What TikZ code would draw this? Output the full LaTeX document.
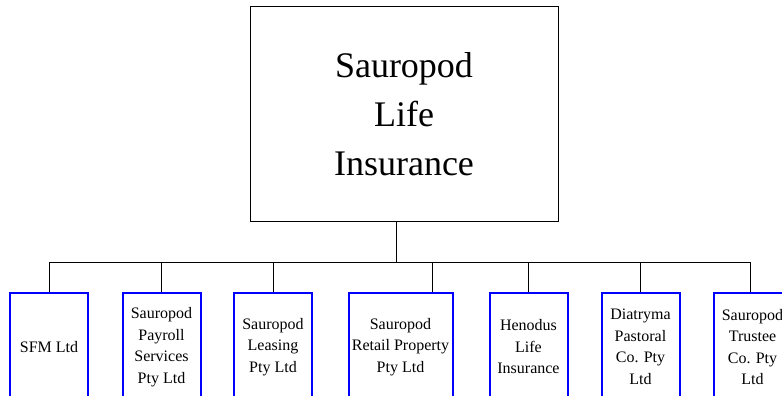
\documentclass[tikz,border=0pt]{standalone}
\usepackage{fontspec}
\setmainfont{Liberation Serif}
\usetikzlibrary{positioning}
\tikzset {
  % connector style
  link/.style = {
    draw = black,
    line width = 1pt
  },
  % head office box
  parent/.style = {
    draw = black,
    line width = 1pt,
    rectangle,
    align = center,
    minimum width = 308pt,
    minimum height = 214pt,
    font = \fontsize{36}{49}\selectfont
  },
  % subsidiary box
  company/.style = {
    draw = blue,
    line width = 2pt,
    rectangle,
    align = center,
    inner sep = 0,
    minimum width = 78pt,
    minimum height = 108pt,
    font = \fontsize{16}{21.5}\selectfont
  }
}
\begin{document}
\begin{tikzpicture}[x=1pt, y=-1pt]
    \useasboundingbox (0,0) rectangle (782,396);

    \node[parent] (top) at (404,114) {Sauropod\\Life\\Insurance};

    \node[company] (sfm) at (49,347) {SFM Ltd};
    \node[company] (payroll) at (161.5,347) {Sauropod\\Payroll\\Services\\Pty Ltd};
    \node[company] (leasing) at (273,347) {Sauropod\\Leasing\\Pty Ltd};
    \node[company, minimum width = 104pt] (retail) at (400.5,347) {Sauropod\\Retail Property\\Pty Ltd};
    \node[company] (henodus) at (528.5,347) {Henodus\\Life\\Insurance};
    \node[company] (pastoral) at (640.5,347) {Diatryma\\Pastoral\\Co. Pty\\Ltd};
    \node[company] (trustee) at (752.5,347) {Sauropod\\Trustee\\Co. Pty\\Ltd};

    \coordinate (hub) at (396,262);

    \draw[link] (top.south -| hub) -- (hub);
    \draw[link] (sfm.north) |- ([xshift=-2.5pt]trustee.north |- hub)
    -- ([xshift=-2.5pt]trustee.north);
    \foreach \n in {payroll, leasing, henodus, pastoral}
      \draw[link] (\n.north) -- (\n.north |- hub);
    \draw[link] ([xshift=31.5pt]retail.north) -- ([xshift=31.5pt]retail.north |- hub);
  \end{tikzpicture}
\end{document}
